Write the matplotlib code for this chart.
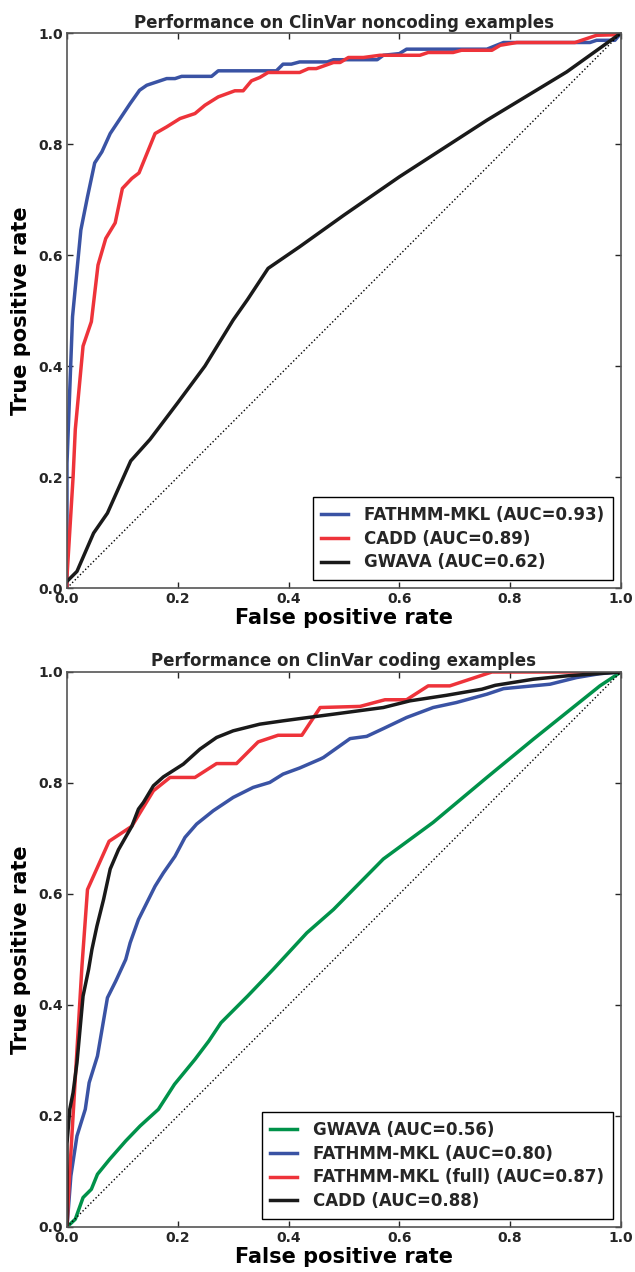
import numpy as np
import matplotlib
matplotlib.use("Agg")
import matplotlib.pyplot as plt

# ROC curves: ClinVar noncoding
nc_fathmm_fpr = [0.0, 0.0, 0.010, 0.025, 0.037, 0.050, 0.063, 0.078, 0.090, 0.114, 0.131, 0.144,
                 0.162, 0.180, 0.195, 0.207, 0.261, 0.273, 0.378, 0.390, 0.405, 0.420, 0.456,
                 0.470, 0.481, 0.560, 0.571, 0.600, 0.613, 0.758, 0.788, 0.944, 0.956, 0.989, 1.0]
nc_fathmm_tpr = [0.0, 0.225, 0.489, 0.645, 0.705, 0.766, 0.786, 0.819, 0.837, 0.873, 0.897, 0.906,
                 0.912, 0.918, 0.918, 0.922, 0.922, 0.932, 0.932, 0.944, 0.944, 0.948, 0.948,
                 0.948, 0.952, 0.952, 0.960, 0.963, 0.971, 0.971, 0.983, 0.983, 0.987, 0.987, 1.0]

nc_cadd_fpr = [0.0, 0.0, 0.011, 0.015, 0.029, 0.044, 0.056, 0.070, 0.087, 0.100, 0.117, 0.130,
               0.159, 0.180, 0.204, 0.231, 0.249, 0.273, 0.303, 0.318, 0.333, 0.348, 0.363,
               0.420, 0.436, 0.450, 0.481, 0.493, 0.508, 0.535, 0.565, 0.637, 0.652, 0.697,
               0.712, 0.767, 0.782, 0.812, 0.917, 0.956, 0.990, 1.0]
nc_cadd_tpr = [0.0, 0.021, 0.200, 0.286, 0.436, 0.480, 0.582, 0.630, 0.658, 0.720, 0.738, 0.748,
               0.819, 0.831, 0.846, 0.855, 0.870, 0.885, 0.896, 0.896, 0.914, 0.920, 0.929,
               0.929, 0.936, 0.936, 0.947, 0.947, 0.956, 0.956, 0.960, 0.960, 0.965, 0.965,
               0.969, 0.969, 0.978, 0.983, 0.983, 0.996, 0.997, 1.0]

nc_gwava_fpr = [0.0, 0.018, 0.048, 0.073, 0.115, 0.150, 0.200, 0.249, 0.300, 0.326, 0.363,
                0.420, 0.500, 0.600, 0.758, 0.902, 1.0]
nc_gwava_tpr = [0.012, 0.030, 0.099, 0.135, 0.229, 0.268, 0.334, 0.400, 0.483, 0.520, 0.576,
                0.615, 0.672, 0.741, 0.843, 0.930, 1.0]

# ClinVar coding
c_gwava_fpr = [0.0, 0.015, 0.029, 0.044, 0.055, 0.077, 0.106, 0.132, 0.165, 0.194, 0.231,
               0.256, 0.278, 0.326, 0.372, 0.433, 0.481, 0.571, 0.661, 0.758, 0.842, 0.932,
               0.962, 1.0]
c_gwava_tpr = [0.0, 0.014, 0.053, 0.068, 0.095, 0.122, 0.155, 0.182, 0.212, 0.257, 0.302,
               0.335, 0.368, 0.416, 0.464, 0.530, 0.572, 0.663, 0.729, 0.810, 0.879, 0.951,
               0.975, 1.0]

c_fathmm_fpr = [0.0, 0.007, 0.018, 0.033, 0.040, 0.055, 0.073, 0.088, 0.106, 0.114, 0.129,
                0.141, 0.159, 0.174, 0.195, 0.213, 0.234, 0.264, 0.300, 0.336, 0.366, 0.390,
                0.420, 0.457, 0.463, 0.511, 0.541, 0.571, 0.613, 0.661, 0.703, 0.758, 0.788,
                0.872, 0.920, 0.962, 1.0]
c_fathmm_tpr = [0.0, 0.092, 0.164, 0.212, 0.260, 0.308, 0.413, 0.443, 0.482, 0.512, 0.554,
                0.578, 0.614, 0.638, 0.668, 0.702, 0.726, 0.750, 0.774, 0.792, 0.801, 0.816,
                0.827, 0.843, 0.846, 0.880, 0.884, 0.898, 0.918, 0.936, 0.945, 0.960, 0.970,
                0.978, 0.990, 0.997, 1.0]

c_full_fpr = [0.0, 0.005, 0.027, 0.037, 0.076, 0.117, 0.156, 0.186, 0.231, 0.270, 0.306,
              0.345, 0.381, 0.424, 0.457, 0.529, 0.574, 0.613, 0.652, 0.691, 0.767, 1.0]
c_full_tpr = [0.0, 0.100, 0.470, 0.608, 0.695, 0.722, 0.786, 0.810, 0.810, 0.835, 0.835,
              0.874, 0.886, 0.886, 0.936, 0.938, 0.950, 0.950, 0.975, 0.975, 1.0, 1.0]

c_cadd_fpr = [0.0, 0.0, 0.005, 0.011, 0.018, 0.029, 0.039, 0.045, 0.054, 0.066, 0.078, 0.093,
              0.117, 0.129, 0.138, 0.156, 0.174, 0.210, 0.240, 0.270, 0.300, 0.348, 0.390,
              0.420, 0.481, 0.571, 0.619, 0.685, 0.749, 0.773, 0.842, 0.902, 1.0]
c_cadd_tpr = [0.0, 0.150, 0.212, 0.242, 0.296, 0.416, 0.464, 0.500, 0.542, 0.590, 0.645, 0.680,
              0.722, 0.753, 0.765, 0.795, 0.811, 0.834, 0.861, 0.882, 0.894, 0.906, 0.912,
              0.916, 0.924, 0.936, 0.948, 0.958, 0.969, 0.976, 0.987, 0.993, 1.0]

BLUE = "#3a53a4"
RED = "#ee333a"
BLACK = "#1a1a1a"
GREEN = "#00924a"
TXT = "#262626"

plt.rcParams["font.family"] = "DejaVu Sans"
plt.rcParams["font.weight"] = "bold"
plt.rcParams["text.color"] = TXT

fig = plt.figure(figsize=(6.35, 12.72), dpi=100)
ax1 = fig.add_axes([0.1055, 0.5377, 0.8724, 0.4363])
ax2 = fig.add_axes([0.1055, 0.0354, 0.8724, 0.4363])


def style(ax, title):
    # chance diagonal, ticks inside on all four sides
    ax.plot([0, 1], [0, 1], color="black", ls=":", lw=1.0)
    ax.set_xlim(0, 1)
    ax.set_ylim(0, 1)
    ticks = np.arange(0, 1.01, 0.2)
    ax.set_xticks(ticks)
    ax.set_yticks(ticks)
    ax.set_xticklabels(["%.1f" % t for t in ticks])
    ax.set_yticklabels(["%.1f" % t for t in ticks])
    ax.tick_params(direction="in", length=4, width=1, top=True, right=True,
                   labelsize=10, colors=TXT, pad=3)
    for lab in ax.get_xticklabels() + ax.get_yticklabels():
        lab.set_fontweight("bold")
    for s in ax.spines.values():
        s.set_color("#555555")
        s.set_linewidth(1.2)
    ax.set_xlabel("False positive rate", fontsize=15, fontweight="bold", labelpad=1)
    ax.set_ylabel("True positive rate", fontsize=15, fontweight="bold", labelpad=5)
    ax.set_title(title, fontsize=12, fontweight="bold", pad=4)


ax1.plot(nc_fathmm_fpr, nc_fathmm_tpr, color=BLUE, lw=2.5, label="FATHMM-MKL (AUC=0.93)")
ax1.plot(nc_cadd_fpr, nc_cadd_tpr, color=RED, lw=2.5, label="CADD (AUC=0.89)")
ax1.plot(nc_gwava_fpr, nc_gwava_tpr, color=BLACK, lw=2.5, label="GWAVA (AUC=0.62)")
style(ax1, "Performance on ClinVar noncoding examples")

ax2.plot(c_gwava_fpr, c_gwava_tpr, color=GREEN, lw=2.5, label="GWAVA (AUC=0.56)")
ax2.plot(c_fathmm_fpr, c_fathmm_tpr, color=BLUE, lw=2.5, label="FATHMM-MKL (AUC=0.80)")
ax2.plot(c_full_fpr, c_full_tpr, color=RED, lw=2.5, label="FATHMM-MKL (full) (AUC=0.87)")
ax2.plot(c_cadd_fpr, c_cadd_tpr, color=BLACK, lw=2.5, label="CADD (AUC=0.88)")
style(ax2, "Performance on ClinVar coding examples")

for ax in (ax1, ax2):
    leg = ax.legend(loc="lower right", fontsize=12, fancybox=False, framealpha=1,
                    edgecolor="black", borderaxespad=0.5, labelspacing=0.35,
                    handlelength=1.6, handletextpad=1.0, borderpad=0.5)
    leg.get_frame().set_linewidth(1.0)
    for t in leg.get_texts():
        t.set_fontweight("bold")

fig.savefig("out.png", dpi=100)
